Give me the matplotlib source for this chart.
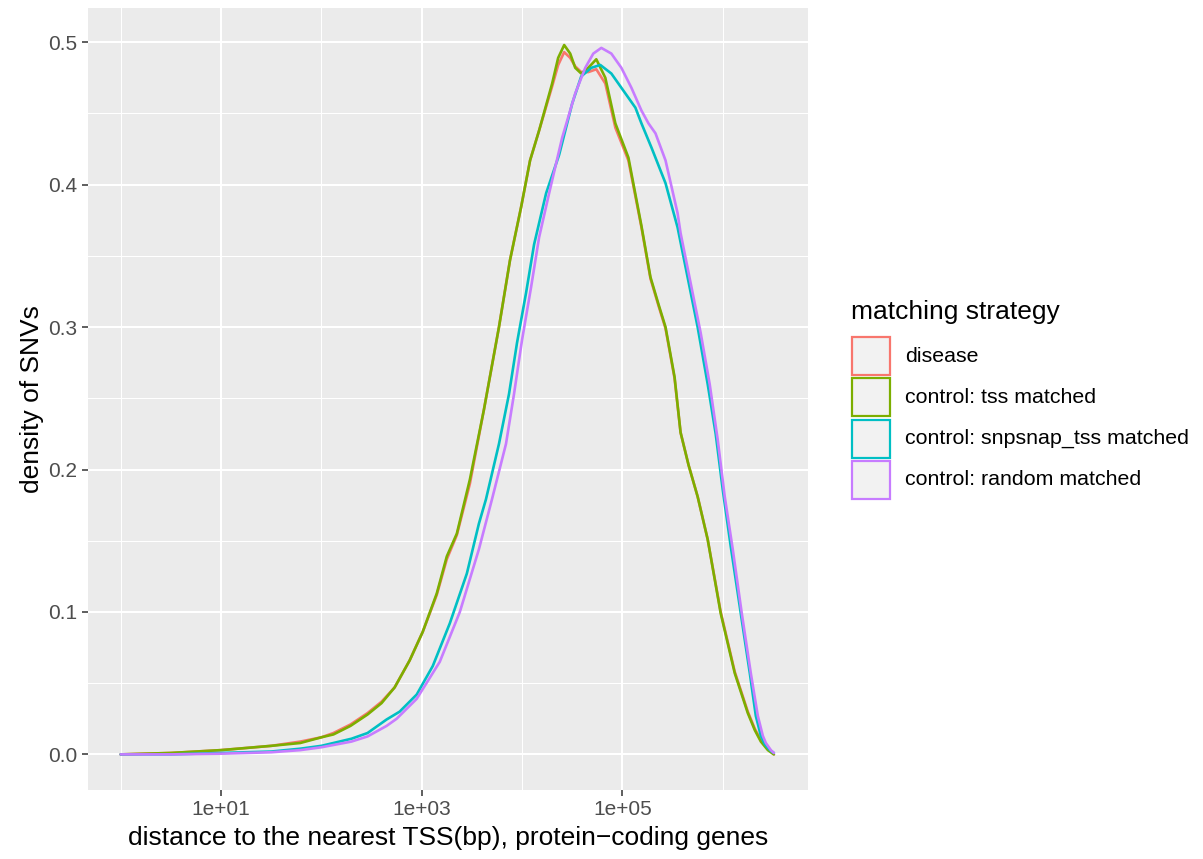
import matplotlib.pyplot as plt
import numpy as np
from matplotlib.patches import Rectangle
from matplotlib.ticker import FixedLocator, NullFormatter

plt.rcParams['font.family'] = ['Liberation Sans', 'DejaVu Sans']

# log10 of distance to nearest TSS (bp) and density of SNVs, per matching strategy
disease_logx = [0.0, 0.5, 1.0, 1.5, 1.79, 2.0, 2.12, 2.29, 2.46, 2.6, 2.73, 2.88, 3.01, 3.15, 3.25,
                3.35, 3.48, 3.62, 3.77, 3.88, 3.99, 4.08, 4.17, 4.30, 4.36, 4.42, 4.48, 4.53,
                4.59, 4.66, 4.74, 4.83, 4.93, 5.06, 5.19, 5.28, 5.36, 5.43, 5.52, 5.58, 5.66,
                5.75, 5.85, 5.98, 6.12, 6.25, 6.32, 6.38, 6.45, 6.51]
disease_dens = [0.0, 0.001, 0.003, 0.006, 0.009, 0.012, 0.015, 0.021, 0.029, 0.037, 0.047, 0.066,
                0.086, 0.112, 0.137, 0.154, 0.190, 0.242, 0.300, 0.347, 0.384, 0.417, 0.438,
                0.469, 0.484, 0.493, 0.489, 0.483, 0.479, 0.479, 0.481, 0.471, 0.440, 0.417,
                0.370, 0.334, 0.315, 0.299, 0.264, 0.226, 0.203, 0.181, 0.151, 0.100, 0.058,
                0.030, 0.018, 0.010, 0.004, 0.0]

tss_logx = [0.0, 0.5, 1.0, 1.5, 1.79, 2.0, 2.12, 2.29, 2.46, 2.6, 2.73, 2.88, 3.01, 3.15, 3.25,
            3.35, 3.48, 3.62, 3.77, 3.88, 3.99, 4.08, 4.17, 4.30, 4.36, 4.42, 4.48, 4.53,
            4.59, 4.66, 4.74, 4.83, 4.93, 5.06, 5.19, 5.28, 5.36, 5.43, 5.52, 5.58, 5.66,
            5.75, 5.85, 5.98, 6.12, 6.25, 6.32, 6.38, 6.45, 6.51]
tss_dens = [0.0, 0.001, 0.003, 0.006, 0.008, 0.012, 0.014, 0.020, 0.028, 0.036, 0.047, 0.066,
            0.086, 0.113, 0.139, 0.155, 0.193, 0.242, 0.300, 0.347, 0.384, 0.417, 0.438, 0.471,
            0.489, 0.498, 0.492, 0.482, 0.478, 0.482, 0.488, 0.475, 0.443, 0.419, 0.371,
            0.335, 0.316, 0.300, 0.265, 0.226, 0.203, 0.181, 0.151, 0.099, 0.057, 0.029,
            0.017, 0.009, 0.003, 0.0]

snpsnap_logx = [0.0, 0.5, 1.0, 1.5, 1.79, 2.0, 2.12, 2.3, 2.46, 2.65, 2.78, 2.95, 3.11, 3.28, 3.45,
                3.57, 3.64, 3.77, 3.87, 3.95, 4.04, 4.12, 4.24, 4.37, 4.50, 4.59, 4.69, 4.78,
                4.89, 5.03, 5.13, 5.19, 5.29, 5.43, 5.55, 5.65, 5.75, 5.85, 5.93, 6.0, 6.08,
                6.18, 6.27, 6.33, 6.38, 6.42, 6.47, 6.51]
snpsnap_dens = [0.0, 0.0, 0.001, 0.002, 0.004, 0.006, 0.008, 0.011, 0.015, 0.0245, 0.030, 0.042,
                0.062, 0.092, 0.127, 0.162, 0.179, 0.218, 0.253, 0.289, 0.324, 0.358, 0.394,
                0.421, 0.457, 0.476, 0.482, 0.484, 0.478, 0.464, 0.454, 0.443, 0.426, 0.401,
                0.370, 0.335, 0.300, 0.260, 0.225, 0.186, 0.146, 0.099, 0.057, 0.027, 0.013,
                0.007, 0.003, 0.001]

random_logx = [0.0, 0.5, 1.0, 1.5, 1.79, 2.0, 2.3, 2.46, 2.65, 2.75, 2.95, 3.18, 3.38, 3.57, 3.70,
               3.84, 3.92, 4.0, 4.09, 4.17, 4.27, 4.40, 4.53, 4.63, 4.71, 4.79, 4.89, 4.99,
               5.09, 5.19, 5.26, 5.33, 5.43, 5.55, 5.58, 5.68, 5.78, 5.87, 5.95, 6.02, 6.10,
               6.19, 6.28, 6.35, 6.40, 6.43, 6.48, 6.51]
random_dens = [0.0, 0.0, 0.0005, 0.0015, 0.003, 0.005, 0.009, 0.0126, 0.020, 0.025, 0.039, 0.065,
               0.100, 0.144, 0.179, 0.218, 0.253, 0.291, 0.328, 0.363, 0.394, 0.433, 0.464,
               0.482, 0.492, 0.496, 0.492, 0.482, 0.468, 0.452, 0.443, 0.436, 0.417, 0.380,
               0.366, 0.331, 0.296, 0.260, 0.221, 0.181, 0.144, 0.099, 0.057, 0.027, 0.013,
               0.008, 0.003, 0.001]

labels = ['disease', 'control: tss matched', 'control: snpsnap_tss matched', 'control: random matched']
colors = ['#F8766D', '#7CAE00', '#00BFC4', '#C77CFF']
series = [(disease_logx, disease_dens), (tss_logx, tss_dens),
          (snpsnap_logx, snpsnap_dens), (random_logx, random_dens)]

x_major = [1e1, 1e3, 1e5]
x_major_labels = ['1e+01', '1e+03', '1e+05']
x_minor = [1e0, 1e2, 1e4, 1e6]
y_major = [0.0, 0.1, 0.2, 0.3, 0.4, 0.5]
y_minor = [0.05, 0.15, 0.25, 0.35, 0.45]

W, H = 1203, 859
fig = plt.figure(figsize=(W / 100, H / 100), dpi=100)
ax = fig.add_axes([88 / W, 1 - 790 / H, 720 / W, 782 / H])
ax.set_facecolor('#EBEBEB')
for s in ax.spines.values():
    s.set_visible(False)

for (lx, d), c in zip(series, colors):
    ax.plot(10 ** np.asarray(lx), d, color=c, lw=1.9, solid_joinstyle='round',
            solid_capstyle='round', zorder=3)

ax.set_xscale('log')
ax.set_xlim(10 ** -0.326, 10 ** 6.85)
ax.set_ylim(-0.025, 0.524)

ax.xaxis.set_major_locator(FixedLocator(x_major))
ax.set_xticklabels(x_major_labels)
ax.xaxis.set_minor_locator(FixedLocator(x_minor))
ax.xaxis.set_minor_formatter(NullFormatter())
ax.set_yticks(y_major)
ax.set_yticklabels([f'{v:.1f}' for v in y_major])
ax.yaxis.set_minor_locator(FixedLocator(y_minor))

ax.grid(which='major', color='white', lw=1.5, zorder=0)
ax.grid(which='minor', color='white', lw=0.75, zorder=0)
ax.set_axisbelow(True)
ax.tick_params(which='major', length=4.5, width=1.1, color='#333333',
               labelcolor='#4D4D4D', labelsize=15, pad=3)
ax.tick_params(which='minor', length=0)

ax.set_xlabel('distance to the nearest TSS(bp), protein\u2212coding genes', fontsize=19, labelpad=5)
ax.set_ylabel('density of SNVs', fontsize=19, labelpad=3)

# legend drawn by hand, ggplot style keys
fig.text(851 / W, 1 - 312 / H, 'matching strategy', fontsize=19, va='center', ha='left')
for i, (lab, c) in enumerate(zip(labels, colors)):
    top = 336 + i * 41.3
    fig.patches.append(Rectangle((852 / W, 1 - (top + 39) / H), 38 / W, 38 / H,
                                 transform=fig.transFigure, facecolor='#F2F2F2',
                                 edgecolor=c, lw=1.6))
    fig.text(905 / W, 1 - (top + 20) / H, lab, fontsize=15.4, va='center', ha='left')

fig.savefig('out.png', dpi=100)
